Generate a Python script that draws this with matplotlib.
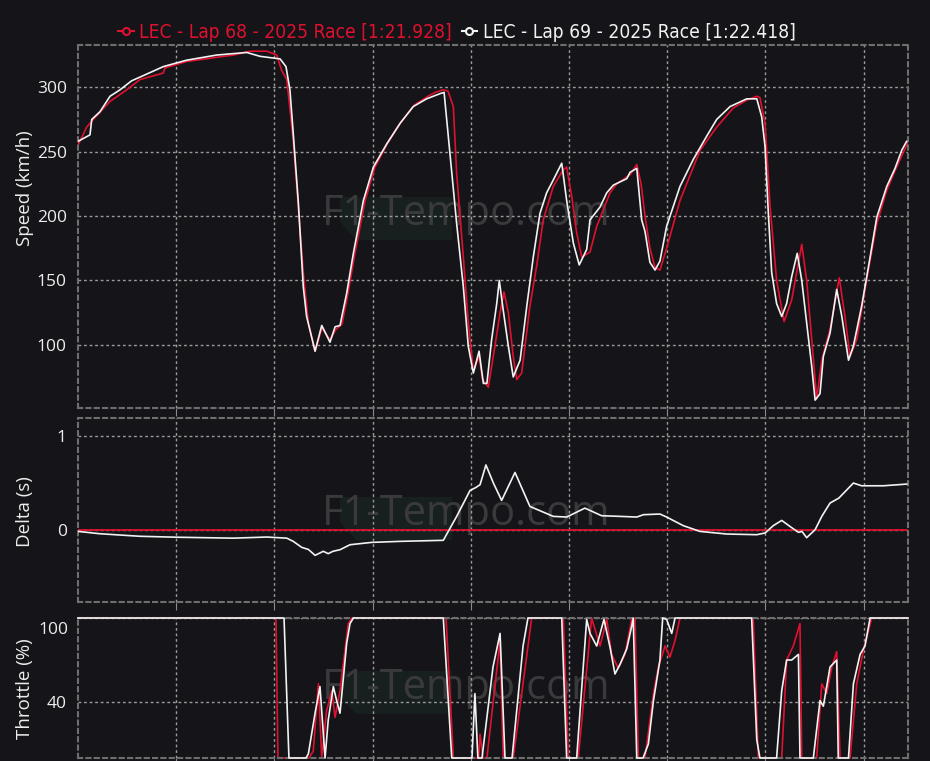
import matplotlib
matplotlib.use("Agg")
from matplotlib import pyplot as plt
from matplotlib.lines import Line2D
from matplotlib.patches import Polygon
import numpy as np

BG = '#151519'
RED = '#e0102f'
WHITE = '#f2f2f2'

lap68_label = 'LEC - Lap 68 - 2025 Race [1:21.928]'
lap69_label = 'LEC - Lap 69 - 2025 Race [1:22.418]'

# Скорость, круг 68 (красный): дистанция, м / км/ч
red_dist = [0, 44, 78, 163, 248, 316, 434, 443, 553, 791, 876, 961, 1012, 1037, 1063, 1096, 1122,
            1147, 1173, 1207, 1242, 1283, 1314, 1344, 1375, 1410, 1462, 1512, 1578, 1645, 1711,
            1782, 1818, 1860, 1884, 1911, 1928, 1962, 1987, 2013, 2042, 2060, 2089, 2123, 2149,
            2169, 2191, 2216, 2234, 2259, 2301, 2335, 2369, 2420, 2471, 2488, 2514, 2539, 2565,
            2607, 2641, 2675, 2709, 2743, 2811, 2845, 2867, 2887, 2912, 2938, 2963, 2997, 3065,
            3167, 3252, 3337, 3405, 3456, 3472, 3498, 3524, 3557, 3595, 3634, 3685, 3710, 3736,
            3761, 3787, 3829, 3876, 3905, 3931, 3965, 4015, 4067, 4118, 4168, 4228]
red_speed = [255, 269, 275, 289, 298, 306, 311, 315, 320, 325, 328, 328, 325, 313, 306, 259, 207,
             156, 117, 95, 113, 104, 112, 116, 140, 171, 212, 238, 257, 273, 286,
             293, 296, 298, 297, 285, 233, 168, 117, 80, 91, 73, 67, 99, 125,
             141, 125, 91, 73, 78, 130, 161, 197, 223, 236, 238, 215, 187, 168,
             172, 192, 205, 218, 225, 232, 240, 225, 200, 175, 160, 158, 175, 212,
             251, 269, 284, 290, 293, 292, 272, 207, 150, 118, 135, 178, 150, 104,
             58, 88, 112, 152, 122, 91, 104, 150, 194, 220, 238, 258]

# Скорость, круг 69 (белый)
white_dist = [0, 61, 70, 112, 163, 214, 273, 332, 434, 553, 706, 859, 927, 1029, 1059, 1079, 1096,
              1122, 1147, 1164, 1207, 1241, 1283, 1309, 1334, 1368, 1402, 1453, 1504, 1572, 1640,
              1707, 1775, 1843, 1864, 1928, 1962, 1987, 2013, 2042, 2064, 2082, 2106, 2132, 2145,
              2165, 2191, 2216, 2251, 2285, 2318, 2352, 2386, 2420, 2463, 2488, 2522, 2552, 2590,
              2607, 2658, 2692, 2726, 2794, 2811, 2845, 2870, 2887, 2912, 2938, 2963, 2997, 3065,
              3133, 3201, 3252, 3320, 3405, 3456, 3481, 3498, 3515, 3532, 3557, 3583, 3608, 3634,
              3662, 3685, 3710, 3736, 3753, 3778, 3795, 3829, 3863, 3889, 3923, 3948, 3990, 4033,
              4067, 4118, 4160, 4194, 4219]
white_speed = [258, 263, 275, 281, 293, 298, 305, 309, 316, 321, 325, 327, 324, 322, 316, 298, 264,
               210, 145, 122, 95, 115, 102, 114, 115, 140, 171, 212, 238, 256, 272,
               285, 291, 295, 296, 194, 145, 99, 78, 95, 70, 70, 104, 132, 150,
               127, 99, 75, 88, 130, 168, 202, 218, 228, 241, 212, 179, 162, 174,
               197, 207, 218, 224, 229, 234, 237, 197, 188, 164, 158, 165, 192, 223,
               244, 262, 275, 285, 291, 291, 277, 254, 202, 156, 132, 122, 132, 153,
               171, 150, 117, 83, 57, 62, 91, 109, 143, 122, 88, 99, 130, 168,
               199, 223, 237, 251, 258]

# Дельта времени круга 69 относительно круга 68, с
delta_dist = [0, 112, 316, 503, 791, 961, 1063, 1096, 1139, 1173, 1207, 1249, 1274, 1298, 1334,
              1385, 1495, 1640, 1860, 1928, 1996, 2026, 2047, 2077, 2115, 2157, 2225, 2301, 2420,
              2488, 2581, 2666, 2760, 2845, 2879, 2963, 2997, 3082, 3167, 3303, 3456, 3498, 3540,
              3583, 3625, 3668, 3686, 3710, 3753, 3787, 3829, 3874, 3948, 3990, 4100, 4219]
delta_val = [-0.018, -0.043, -0.07, -0.08, -0.09, -0.078, -0.09, -0.124, -0.188, -0.21, -0.273,
             -0.23, -0.255, -0.23, -0.213, -0.16, -0.135, -0.124, -0.113, 0.142, 0.418, 0.45,
             0.479, 0.69, 0.497, 0.312, 0.61, 0.248, 0.142, 0.135, 0.23, 0.149, 0.142, 0.135,
             0.16, 0.167, 0.135, 0.043, -0.018, -0.046, -0.053, -0.035, 0.043, 0.099, 0.035,
             -0.028, -0.018, -0.085, 0.0, 0.142, 0.284, 0.337, 0.497, 0.468, 0.468, 0.486]

# Газ, %
red_thr_dist = [0, 1008, 1018, 1176, 1198, 1224, 1241, 1266, 1292, 1309, 1334, 1376, 1394, 1874,
                1911, 2040, 2047, 2062, 2082, 2149, 2165, 2216, 2310, 2471, 2496, 2547, 2615, 2658,
                2692, 2717, 2751, 2785, 2819, 2836, 2853, 2887, 2930, 2955, 2989, 3014, 3040, 3065,
                3438, 3464, 3583, 3608, 3642, 3676, 3685, 3761, 3787, 3812, 3838, 3863, 3880, 3931,
                3965, 3999, 4041, 4226]
red_throttle = [100, 100, 0, 0, 5, 53, 0, 34, 48, 29, 48, 96, 100, 100,
                0, 0, 17, 0, 0, 84, 0, 0, 100, 100, 0, 0, 100, 80,
                99, 74, 64, 74, 99, 100, 0, 0, 46, 65, 80, 72, 84, 100,
                100, 0, 0, 70, 80, 96, 0, 0, 53, 46, 65, 76, 0, 0,
                53, 77, 100, 100]
white_thr_dist = [0, 1049, 1074, 1161, 1173, 1207, 1232, 1258, 1274, 1300, 1317, 1334, 1368, 1385,
                  1402, 1860, 1903, 2006, 2021, 2036, 2057, 2113, 2149, 2174, 2210, 2266, 2291,
                  2463, 2488, 2539, 2590, 2607, 2641, 2678, 2709, 2734, 2760, 2794, 2819, 2827,
                  2845, 2877, 2904, 2930, 2963, 2977, 2997, 3023, 3040, 3430, 3456, 3472, 3557,
                  3583, 3608, 3634, 3668, 3676, 3744, 3778, 3795, 3829, 3863, 3871, 3923, 3948,
                  3982, 4007, 4033, 4226]
white_throttle = [100, 100, 0, 0, 3, 32, 51, 0, 27, 51, 41, 32, 82, 96,
                  100, 100, 0, 0, 46, 0, 0, 65, 89, 0, 0, 80, 100,
                  100, 0, 0, 99, 89, 80, 99, 79, 60, 67, 78, 94, 100,
                  0, 0, 10, 41, 70, 100, 99, 89, 100, 100, 13, 0, 0,
                  48, 70, 70, 74, 0, 0, 41, 37, 65, 70, 0, 0, 53,
                  74, 80, 100, 100]

W, H = 930, 761
fig = plt.figure(figsize=(W / 100, H / 100), dpi=100, facecolor=BG)
plt.rcParams['font.family'] = ['Open Sans', 'DejaVu Sans']
TXT = '#ececec'


def px_axes(left, top, right, bottom):
    return fig.add_axes([left / W, 1 - bottom / H, (right - left) / W, (bottom - top) / H])


# Водяной знак F1-Tempo по центру панели (yc - центр в пикселях)
def watermark(ax, yc):
    dy = yc - 214
    ax.add_patch(Polygon([(340 / W, 1 - (197 + dy) / H), (452 / W, 1 - (197 + dy) / H),
                          (452 / W, 1 - (240 + dy) / H), (356 / W, 1 - (240 + dy) / H),
                          (340 / W, 1 - (222 + dy) / H)],
                         closed=True, transform=fig.transFigure, facecolor='#17201f',
                         edgecolor='none', zorder=0))
    ax.text(466 / W, 1 - yc / H, 'F1-Tempo.com', transform=fig.transFigure, ha='center',
            va='center', fontsize=30, color='#3a3a3d', zorder=0.5)


ax_speed = px_axes(78, 45, 908, 408)
ax_delta = px_axes(78, 418, 908, 602)
ax_thr = px_axes(78, 618, 908, 758)

for ax, yc in ((ax_speed, 214), (ax_delta, 514), (ax_thr, 688)):
    ax.set_facecolor(BG)
    ax.set_xlim(0, 4226)
    ax.set_xticks(np.arange(500, 4226, 500))
    ax.tick_params(axis='x', length=6, color='#8a8a8a', labelbottom=False)
    ax.tick_params(axis='y', length=0, pad=8, labelcolor=TXT, labelsize=12.5)
    ax.grid(True, color='#9a9a9a', linestyle=(0, (2, 2)), linewidth=1)
    for s in ax.spines.values():
        s.set_color('#6e6e6e')
        s.set_linestyle((0, (2, 2)))
        s.set_linewidth(1.5)
    watermark(ax, yc)

# Скорость
ax_speed.plot(red_dist, red_speed, color=RED, lw=1.2, zorder=2)
ax_speed.plot(white_dist, white_speed, color=WHITE, lw=1.2, zorder=3)
ax_speed.set_ylim(50.9, 332.8)
ax_speed.set_yticks([100, 150, 200, 250, 300])

# Дельта
ax_delta.axhline(0, color=RED, lw=1.3, zorder=2)
ax_delta.plot(delta_dist, delta_val, color=WHITE, lw=1.2, zorder=3)
ax_delta.set_ylim(-0.77, 1.19)
ax_delta.set_yticks([0, 1])

# Газ
ax_thr.plot(red_thr_dist, red_throttle, color=RED, lw=1.2, zorder=2, clip_on=False)
ax_thr.plot(white_thr_dist, white_throttle, color=WHITE, lw=1.2, zorder=3, clip_on=False)
ax_thr.set_ylim(0, 100)
ax_thr.set_yticks([40, 100])
ax_thr.set_yticklabels(['40', ''])
fig.text(68 / W, 1 - 630 / H, '100', ha='right', va='center', color=TXT, fontsize=12.5)

fig.text(25 / W, 1 - 188 / H, 'Speed (km/h)', rotation=90, ha='center', va='center',
         color=TXT, fontsize=13.5)
fig.text(25 / W, 1 - 512 / H, 'Delta (s)', rotation=90, ha='center', va='center',
         color=TXT, fontsize=13.5)
fig.text(25 / W, 1 - 689 / H, 'Throttle (%)', rotation=90, ha='center', va='center',
         color=TXT, fontsize=13.5)

handles = [Line2D([], [], color=RED, lw=1.5, marker='o', ms=5, mfc=BG, mew=1.5),
           Line2D([], [], color=WHITE, lw=1.5, marker='o', ms=5, mfc=BG, mew=1.5)]
leg = fig.legend(handles, [lap68_label, lap69_label], loc='center', bbox_to_anchor=(457 / W, 1 - 32 / H),
                 ncol=2, frameon=False, handlelength=0.8, handletextpad=0.3, columnspacing=0.5,
                 prop={'family': 'DejaVu Sans', 'stretch': 'condensed', 'size': 13.8})
for t, c in zip(leg.get_texts(), [RED, WHITE]):
    t.set_color(c)

fig.savefig('out.png', dpi=100, facecolor=BG)
